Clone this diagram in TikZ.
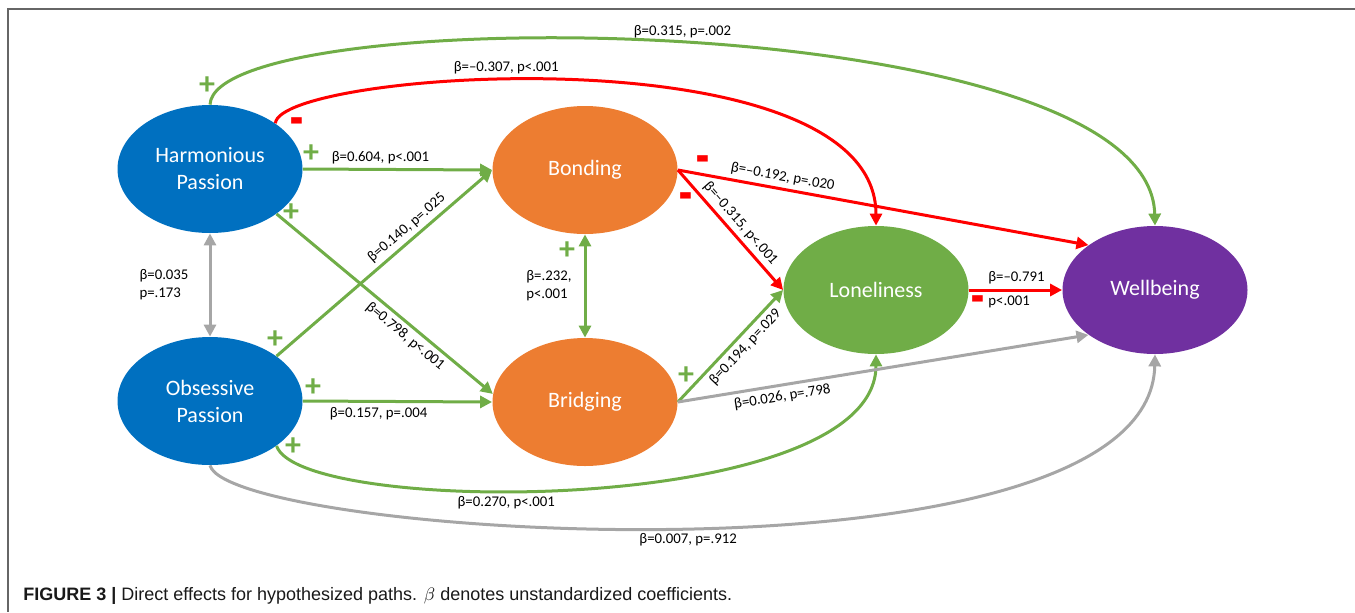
\documentclass[tikz,border=0pt]{standalone}
\usepackage{fontspec}
\usepackage{graphicx}
\setmainfont{Carlito}
\newfontfamily\capfont{Liberation Sans}
\usetikzlibrary{shapes.geometric,arrows.meta}

\definecolor{passblue}{HTML}{0070C0}
\definecolor{capsorange}{HTML}{ED7D31}
\definecolor{posgreen}{HTML}{70AD47}
\definecolor{wellpurple}{HTML}{7030A0}
\definecolor{negred}{HTML}{FF0000}
\definecolor{nsgray}{HTML}{A6A6A6}

\tikzset{latent/.style = {ellipse, fill = #1, text = white, align = center,
                          minimum width = 92.5pt, minimum height = 64pt, inner sep = 0pt,
                          font = \fontsize{11}{13.5}\selectfont},
         latent/.default = passblue,
         effect/.style = {draw = #1, line width = 1.5pt,
                          arrows = {-Triangle[length = 6pt, width = 6pt]}},
         effect/.default = posgreen,
         both/.style = {draw = #1, line width = 1.5pt,
                        arrows = {Triangle[length = 6pt, width = 6pt]-Triangle[length = 6pt, width = 6pt]}},
         both/.default = posgreen,
         coef/.style = {font = \fontsize{7.4}{9}\selectfont, inner sep = 2pt},
         plus/.style = {text = posgreen, inner sep = 0pt, font = \fontsize{16}{16}\selectfont\bfseries},
         minus/.style = {text = negred, inner sep = 0pt, font = \fontsize{13}{13}\selectfont\bfseries}
        }

\begin{document}
\begin{tikzpicture}[x = 0.5pt, y = -0.5pt]
  \useasboundingbox (0,0) rectangle (1355,612);
  \draw[line width = 0.8pt, draw = black!60] (1355,9) -- (8,9) -- (8,612);

  \node[latent] (hp) at (210,169) {Harmonious\\Passion};
  \node[latent] (op) at (210,401) {Obsessive\\Passion};
  \node[latent = capsorange] (bo) at (585,170) {Bonding};
  \node[latent = capsorange] (br) at (585,402) {Bridging};
  \node[latent = posgreen] (lo) at (876,290) {Loneliness};
  \node[latent = wellpurple] (wb) at (1155,290) {Wellbeing};

  \draw[effect] (hp.north) .. controls (215,0) and (1150,5) .. (wb.north)
    node[coef, pos = 0.5, above] (c1) {β=0.315, p=.002};
  \draw[effect = negred] (hp.35) .. controls (280,70) and (876,30) .. (lo.north)
    node[coef, pos = 0.42, above] (c2) {β=–0.307, p<.001};
  \draw[effect] (hp.east) -- (bo.west)
    node[coef, pos = 0.41, above] (c3) {β=0.604, p<.001};
  \draw[effect] (hp.-34) -- (br.175)
    node[coef, pos = 0.63, below, sloped] (c4) {β=0.798, p<.001};
  \draw[effect] (op.34) -- (bo.west)
    node[coef, pos = 0.64, above, sloped] (c5) {β=0.140, p=.025};
  \draw[effect] (op.east) -- (br.west)
    node[coef, pos = 0.4, below] (c6) {β=0.157, p=.004};
  \draw[effect] (op.-34) .. controls (300,517) and (876,517) .. (lo.south)
    node[coef, pos = 0.41, below] (c7) {β=0.270, p<.001};
  \draw[effect = nsgray] (op.south) .. controls (230,537) and (1150,597) .. (wb.south)
    node[coef, pos = 0.5, below] (c8) {β=0.007, p=.912};
  \draw[both = nsgray] (hp.south) -- (op.north)
    node[coef, midway, left = 8pt, align = left] (c9) {β=0.035\\p=.173};
  \draw[both] (bo.south) -- (br.north)
    node[coef, midway, left = 4pt, align = left] (c10) {β=.232,\\p<.001};
  \draw[effect = negred] (bo.east) -- (wb.146)
    node[coef, pos = 0.25, above, sloped] (c11) {β=–0.192, p=.020};
  \draw[effect = negred] (bo.east) -- (lo.west)
    node[coef, pos = 0.51, above, sloped] (c12) {β=–0.315, p<.001};
  \draw[effect] (br.east) -- (lo.west)
    node[coef, pos = 0.56, below, sloped] (c13) {β=0.194, p=.029};
  \draw[effect = nsgray] (br.east) -- (wb.214)
    node[coef, pos = 0.25, below, sloped] (c14) {β=0.026, p=.798};
  \draw[effect = negred] (lo.east) -- (wb.west)
    node[coef, pos = 0.15, anchor = south west] (c15) {β=–0.791}
    node[coef, pos = 0.15, anchor = north west] (c16) {p<.001};

  \node[plus] (s1) at (207,86) {+};
  \node[minus] (s2) at (297,130) {\scalebox{1.15}[2.8]{–}};
  \node[plus] (s3) at (311,154) {+};
  \node[plus] (s4) at (291,213) {+};
  \node[plus] (s5) at (275,340) {+};
  \node[plus] (s6) at (313,388) {+};
  \node[plus] (s7) at (293,447) {+};
  \node[minus] (s8) at (703,168) {\scalebox{1.15}[2.8]{–}};
  \node[minus] (s9) at (686,205) {\scalebox{1.15}[2.8]{–}};
  \node[plus] (s10) at (567,251) {+};
  \node[plus] (s11) at (686,376) {+};
  \node[minus] (s12) at (978,308) {\scalebox{1.15}[2.8]{–}};

  \node[anchor = west, inner sep = 0pt, text = black!90,
        font = \capfont\fontsize{9}{11}\selectfont] (cap) at (23,596)
    {\textbf{FIGURE 3 |} Direct effects for hypothesized paths. $\beta$ denotes unstandardized coefficients.};
\end{tikzpicture}
\end{document}
